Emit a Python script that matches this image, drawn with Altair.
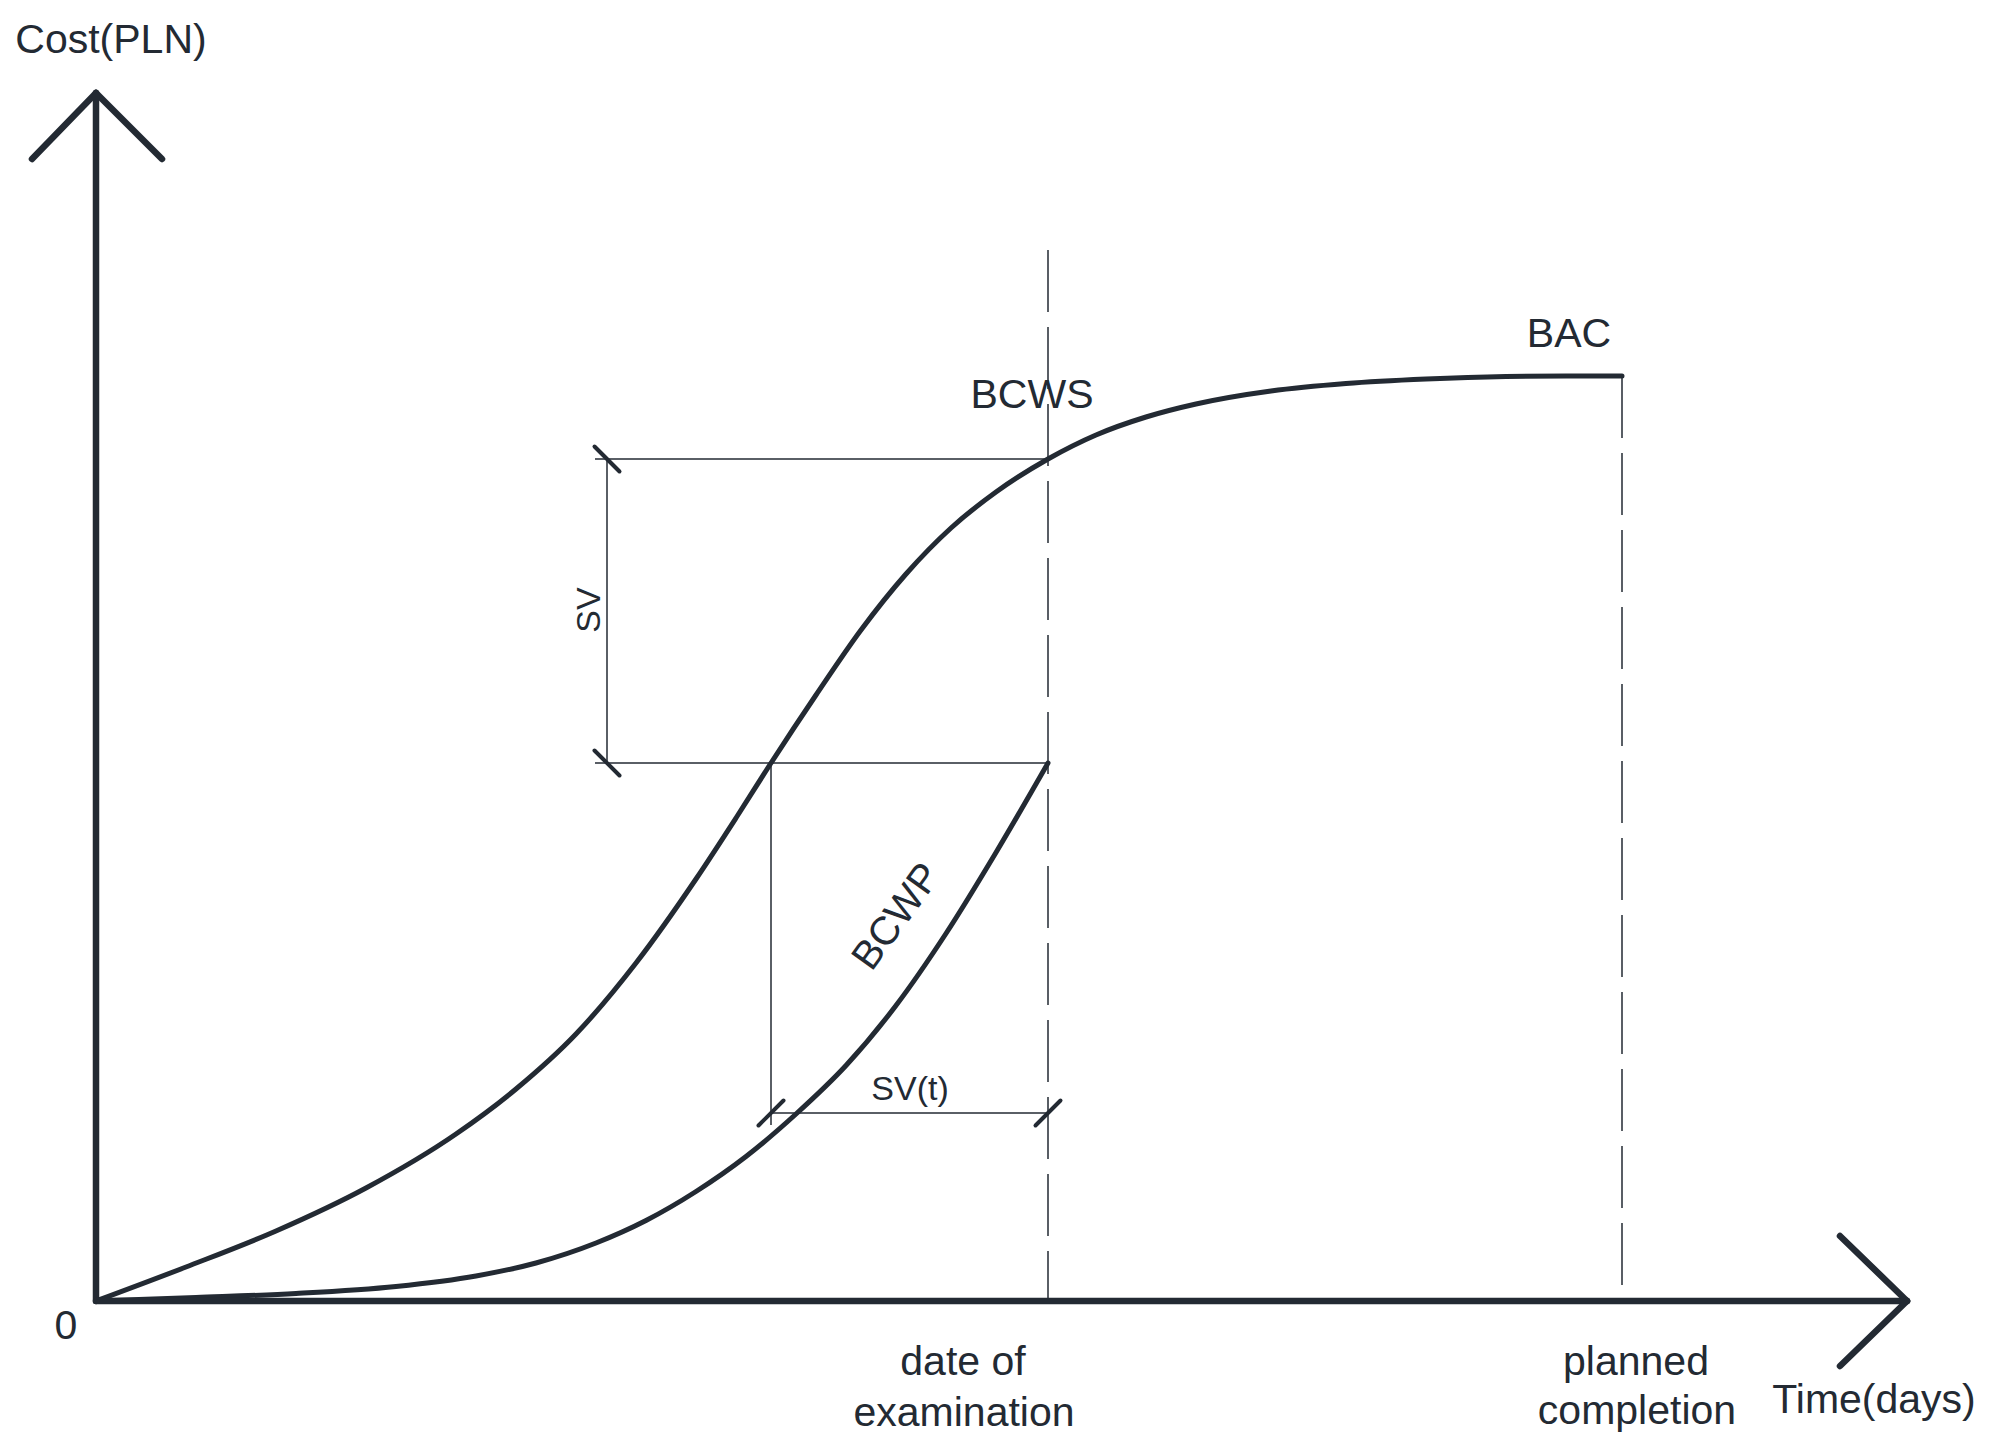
import altair as alt
import pandas as pd

INK = "#232a33"
FONT = "Liberation Sans"

# ---- data (arbitrary units: time along x, cost along y, origin at 0,0) ----
bcws_t = [0, 90, 180, 270, 360, 420, 480, 540, 600, 640, 675, 720, 765, 810, 855,
          900, 952, 1000, 1050, 1100, 1175, 1250, 1330, 1410, 1470, 1526]
bcws_c = [0, 34, 70, 113, 167, 212, 267, 338, 422, 483, 538, 606, 671, 727, 773,
          809, 842, 866, 884, 897, 910, 917.5, 922, 924.5, 925, 925]

bcwp_t = [0, 100, 200, 300, 380, 440, 500, 550, 600, 650, 700, 750, 800, 850,
          900, 952]
bcwp_c = [0, 3.5, 7.5, 14.5, 25, 38, 58, 80.5, 109.5, 144.5, 187, 235.5, 295.5,
          367.5, 448.5, 538]

exam_t = 952        # date of examination
plan_t = 1526       # planned completion
bac_c = 925         # budget at completion
sv_top = 842        # BCWS at date of examination
sv_bot = 538        # BCWP at date of examination
sv_dim_t = 511
sv_ext_t = 499
svt_t0 = 675        # time when BCWS reached current BCWP
svt_c = 188
y_tip = 1208
x_tip = 1811

# labels
h_text = ["Cost(PLN)", "0", "Time(days)", "date of", "examination", "planned",
          "completion", "BAC", "BCWS", "SV(t)"]
h_t = [15, -30, 1778, 867, 868, 1540, 1541, 1473, 936, 814]
h_c = [1248, -38, -112, -74, -125, -74, -123, 954, 893, 201]
h_size = [41, 41, 41, 41, 41, 41, 41, 41, 41, 34]

r_text = ["SV", "BCWP"]
r_t = [494, 801]
r_c = [691, 384]
r_size = [34, 40]
r_angle = [270, 306]

xs = alt.Scale(domain=[-88, 1891], nice=False, zero=False)
ys = alt.Scale(domain=[-134, 1293], nice=False, zero=False)

curves = pd.concat([
    pd.DataFrame({"t": bcws_t, "c": bcws_c, "series": "BCWS"}),
    pd.DataFrame({"t": bcwp_t, "c": bcwp_c, "series": "BCWP"}),
])

axes_seg = pd.DataFrame([
    dict(t=0, c=0, t2=0, c2=y_tip),
    dict(t=-64, c=y_tip - 66, t2=0, c2=y_tip),
    dict(t=66, c=y_tip - 66, t2=0, c2=y_tip),
    dict(t=0, c=0, t2=x_tip, c2=0),
    dict(t=x_tip - 67, c=65, t2=x_tip, c2=0),
    dict(t=x_tip - 67, c=-65, t2=x_tip, c2=0),
])

thin_seg = pd.DataFrame([
    dict(t=sv_ext_t, c=sv_top, t2=exam_t, c2=sv_top),
    dict(t=sv_ext_t, c=sv_bot, t2=exam_t, c2=sv_bot),
    dict(t=sv_dim_t, c=sv_top, t2=sv_dim_t, c2=sv_bot),
    dict(t=svt_t0, c=sv_bot, t2=svt_t0, c2=svt_c - 12),
    dict(t=svt_t0, c=svt_c, t2=exam_t, c2=svt_c),
])

tick_seg = pd.DataFrame([
    dict(t=sv_dim_t - 12.5, c=sv_top + 12.5, t2=sv_dim_t + 12.5, c2=sv_top - 12.5),
    dict(t=sv_dim_t - 12.5, c=sv_bot + 12.5, t2=sv_dim_t + 12.5, c2=sv_bot - 12.5),
    dict(t=svt_t0 - 12.5, c=svt_c - 12.5, t2=svt_t0 + 12.5, c2=svt_c + 12.5),
    dict(t=exam_t - 12.5, c=svt_c - 12.5, t2=exam_t + 12.5, c2=svt_c + 12.5),
])

dash_seg = pd.DataFrame([
    dict(t=exam_t, c=1051, t2=exam_t, c2=0),
    dict(t=plan_t, c=bac_c, t2=plan_t, c2=0),
])

hlab = pd.DataFrame({"text": h_text, "t": h_t, "c": h_c, "size": h_size})
rlab = pd.DataFrame({"text": r_text, "t": r_t, "c": r_c, "size": r_size, "angle": r_angle})


def seg_layer(df, width, cap="round", dash=None):
    kw = dict(color=INK, strokeWidth=width, strokeCap=cap)
    if dash is not None:
        kw["strokeDash"] = dash
    return alt.Chart(df).mark_rule(**kw).encode(
        x=alt.X("t:Q", scale=xs, axis=None),
        y=alt.Y("c:Q", scale=ys, axis=None),
        x2="t2:Q",
        y2="c2:Q",
    )


curve_layer = alt.Chart(curves).mark_line(
    color=INK, strokeWidth=5, interpolate="monotone", strokeCap="round", strokeJoin="round"
).encode(
    x=alt.X("t:Q", scale=xs, axis=None),
    y=alt.Y("c:Q", scale=ys, axis=None),
    detail="series:N",
    order="t:Q",
)

h_layer = alt.Chart(hlab).mark_text(
    color=INK, font=FONT, align="center", baseline="alphabetic"
).encode(
    x=alt.X("t:Q", scale=xs, axis=None),
    y=alt.Y("c:Q", scale=ys, axis=None),
    text="text:N",
    size=alt.Size("size:Q", scale=None, legend=None),
)

r_layer = alt.Chart(rlab).mark_text(
    color=INK, font=FONT, align="center", baseline="middle"
).encode(
    x=alt.X("t:Q", scale=xs, axis=None),
    y=alt.Y("c:Q", scale=ys, axis=None),
    text="text:N",
    size=alt.Size("size:Q", scale=None, legend=None),
    angle=alt.Angle("angle:Q", scale=None),
)

chart = alt.layer(
    seg_layer(dash_seg, 1.5, cap="butt", dash=[62, 15]),
    seg_layer(thin_seg, 1.5, cap="butt"),
    seg_layer(tick_seg, 4),
    curve_layer,
    seg_layer(axes_seg, 6.5),
    h_layer,
    r_layer,
).properties(
    width=1979, height=1427, padding=0, autosize=alt.AutoSizeParams(type="none"),
    background="white",
).configure_view(stroke=None)

chart.save("out.html", embed_options={"renderer": "svg", "actions": False})
